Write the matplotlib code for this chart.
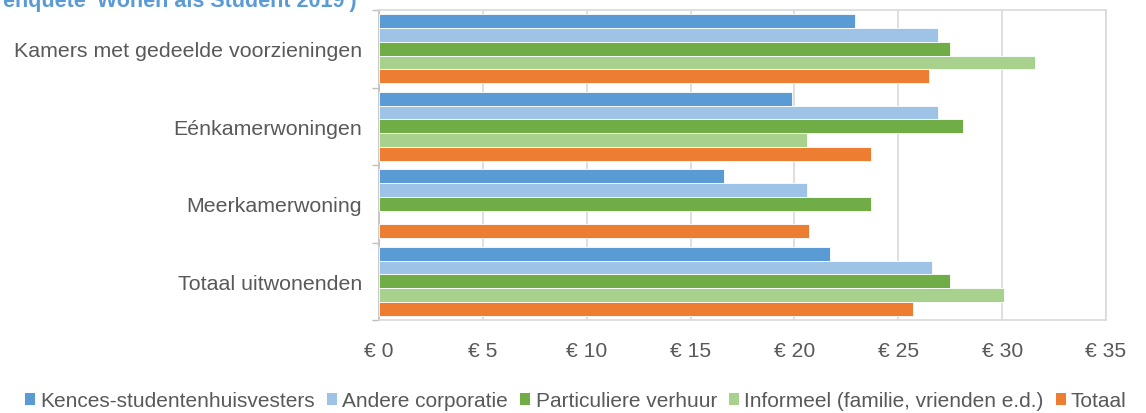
import numpy as np
import matplotlib
matplotlib.use("Agg")
import matplotlib.pyplot as plt
from matplotlib.patches import Patch

categories = [
    "Kamers met gedeelde voorzieningen",
    "Eénkamerwoningen",
    "Meerkamerwoning",
    "Totaal uitwonenden",
]
series = [
    "Kences-studentenhuisvesters",
    "Andere corporatie",
    "Particuliere verhuur",
    "Informeel (familie, vrienden e.d.)",
    "Totaal",
]
kences = [22.9, 19.9, 16.6, 21.7]
andere = [26.9, 26.9, 20.6, 26.6]
particulier = [27.5, 28.1, 23.7, 27.5]
informeel = [31.6, 20.6, np.nan, 30.1]
totaal = [26.5, 23.7, 20.7, 25.7]
values = [kences, andere, particulier, informeel, totaal]
colors = ["#5B9BD5", "#9DC3E6", "#70AD47", "#A9D18E", "#ED7D31"]
xticks = [0, 5, 10, 15, 20, 25, 30, 35]
xticklabels = ["€ 0", "€ 5", "€ 10", "€ 15", "€ 20", "€ 25", "€ 30", "€ 35"]

plt.rcParams["font.family"] = ["Liberation Sans", "DejaVu Sans"]
text_color = "#595959"

W, H = 1146, 414
fig = plt.figure(figsize=(W / 100, H / 100), dpi=100)
ax = fig.add_axes([379 / W, 1 - 321 / H, (1106 - 379) / W, (321 - 11) / H])

n = len(series)
bar_h = 0.89 / n
centers = np.arange(len(categories))[::-1]  # first category at the top
for i, (vals, col) in enumerate(zip(values, colors)):
    offs = (2 - i) * bar_h
    ax.barh(centers + offs, vals, height=bar_h, color=col,
            edgecolor="white", linewidth=0.6, zorder=3)

ax.set_xlim(0, 35)
ax.set_ylim(-0.5, len(categories) - 0.5)
ax.set_xticks(xticks)
ax.set_xticklabels(xticklabels, fontsize=15.2, color=text_color)
ax.set_yticks(centers)
ax.set_yticklabels(categories, fontsize=15.4, color=text_color)
ax.set_yticks(np.arange(len(categories) + 1) - 0.5, minor=True)
ax.tick_params(axis="y", which="major", length=0, pad=12.3)
ax.tick_params(axis="y", which="minor", length=5, width=1, color="#BFBFBF")
ax.tick_params(axis="x", length=0, pad=15)
ax.grid(axis="x", color="#D9D9D9", linewidth=1.2, zorder=0)
for side in ["top", "right", "bottom"]:
    ax.spines[side].set_color("#D9D9D9")
    ax.spines[side].set_linewidth(1.2)
ax.spines["left"].set_color("#BFBFBF")
ax.spines["left"].set_linewidth(1.2)

fig.text(3 / W, 1 - 7 / H, "enquete 'Wonen als Student 2019')",
         fontsize=15.5, fontweight="bold", color="#5B9BD5",
         ha="left", va="baseline")

handles = [Patch(facecolor=c, edgecolor="none") for c in colors]
fig.legend(handles, series, loc="center", bbox_to_anchor=(576 / W, 1 - 402 / H),
           ncol=5, frameon=False, fontsize=15, labelcolor=text_color,
           handlelength=0.48, handleheight=0.48, handletextpad=0.25,
           columnspacing=0.58, borderaxespad=0, borderpad=0)

fig.savefig("out.png", dpi=100)
